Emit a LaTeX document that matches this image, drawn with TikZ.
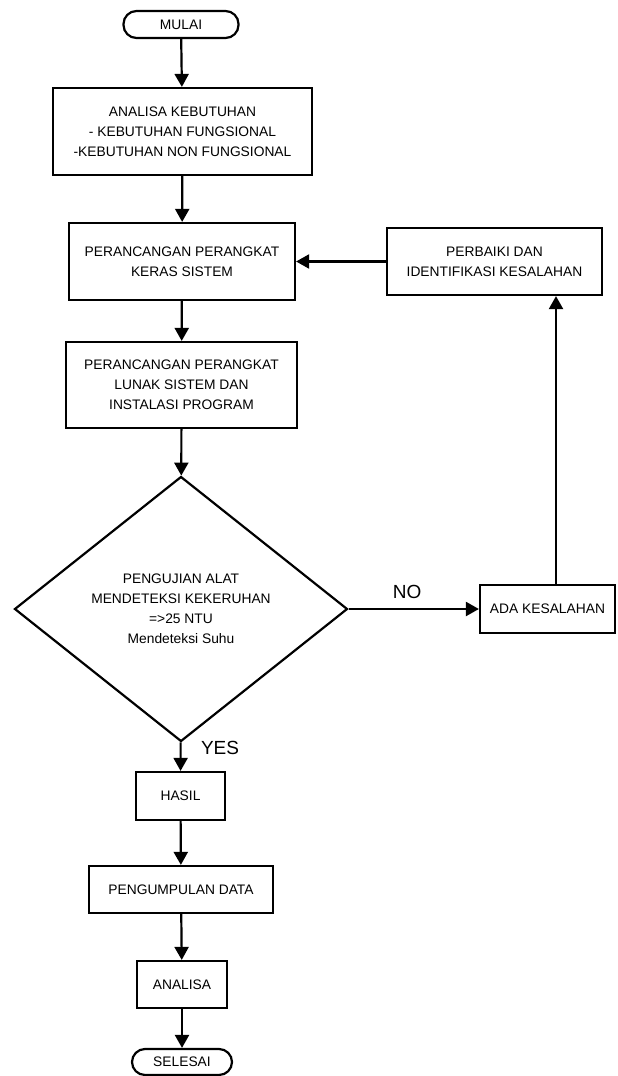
\documentclass[tikz,border=0pt]{standalone}
\usepackage{fontspec}
\setmainfont{Liberation Sans}
\usetikzlibrary{shapes.geometric,arrows.meta}

\begin{document}
\begin{tikzpicture}[
    x=1pt, y=-1pt,
    font=\fontsize{13.8}{20}\selectfont,
    proses/.style={rectangle, draw, line width=2.2pt, align=center, inner sep=0pt},
    terminal/.style={rectangle, draw, line width=2.2pt, rounded corners=13pt, inner sep=0pt},
    keputusan/.style={diamond, draw, line width=2.2pt, align=center, inner sep=0pt},
    arrow/.style={-{Triangle[width=14pt,length=13pt]}, line width=2.2pt},
    jawab/.style={font=\fontsize{19}{19}\selectfont}
]
\useasboundingbox (0,0) rectangle (618,1076);

% Mulai
\node[terminal, minimum width=115pt, minimum height=27pt] (mulai) at (181,24.5) {MULAI};

% Tahap perancangan
\node[proses, minimum width=259pt, minimum height=87pt] (analisis) at (182.5,131.5) {ANALISA KEBUTUHAN\\- KEBUTUHAN FUNGSIONAL\\-KEBUTUHAN NON FUNGSIONAL};
\node[proses, minimum width=226pt, minimum height=77pt] (keras) at (182,261.5) {PERANCANGAN PERANGKAT\\KERAS SISTEM};
\node[proses, minimum width=231pt, minimum height=86pt] (lunak) at (181.5,385) {PERANCANGAN PERANGKAT\\LUNAK SISTEM DAN\\INSTALASI PROGRAM};

% Pengujian
\node[keputusan, minimum width=333pt, minimum height=265pt] (uji) at (181,609) {PENGUJIAN ALAT\\MENDETEKSI KEKERUHAN\\=>25 NTU\\Mendeteksi Suhu};
\node[proses, minimum width=135pt, minimum height=48pt] (salah) at (547.5,609) {ADA KESALAHAN};
\node[proses, minimum width=215pt, minimum height=67pt] (perbaiki) at (494.5,261.5) {PERBAIKI DAN\\IDENTIFIKASI KESALAHAN};

% Hasil
\node[proses, minimum width=89pt, minimum height=48pt] (hasil) at (180.5,796) {HASIL};
\node[proses, minimum width=184pt, minimum height=47pt] (kumpul) at (181,889.5) {PENGUMPULAN DATA};
\node[proses, minimum width=90pt, minimum height=47pt] (analisa) at (182,984.5) {ANALISA};
\node[terminal, minimum width=100pt, minimum height=26pt] (selesai) at (182,1062) {SELESAI};

% Alur utama
\draw[arrow] (mulai) -- (analisis);
\draw[arrow] (analisis) -- (keras);
\draw[arrow] (keras) -- (lunak);
\draw[arrow] (lunak) -- (uji);
\draw[arrow] (uji) -- node[pos=0.2, right=16pt, jawab] {YES} (hasil);
\draw[arrow] (hasil) -- (kumpul);
\draw[arrow] (kumpul) -- (analisa);
\draw[arrow] (analisa) -- (selesai);

% Alur perbaikan
\draw[arrow] (uji) -- node[pos=0.45, above=6pt, jawab] {NO} (salah);
\draw[arrow] ([xshift=8.5pt]salah.north) -- ([xshift=8.5pt]salah.north |- perbaiki.south);
\draw[arrow] (perbaiki) -- (keras);

\end{tikzpicture}
\end{document}
